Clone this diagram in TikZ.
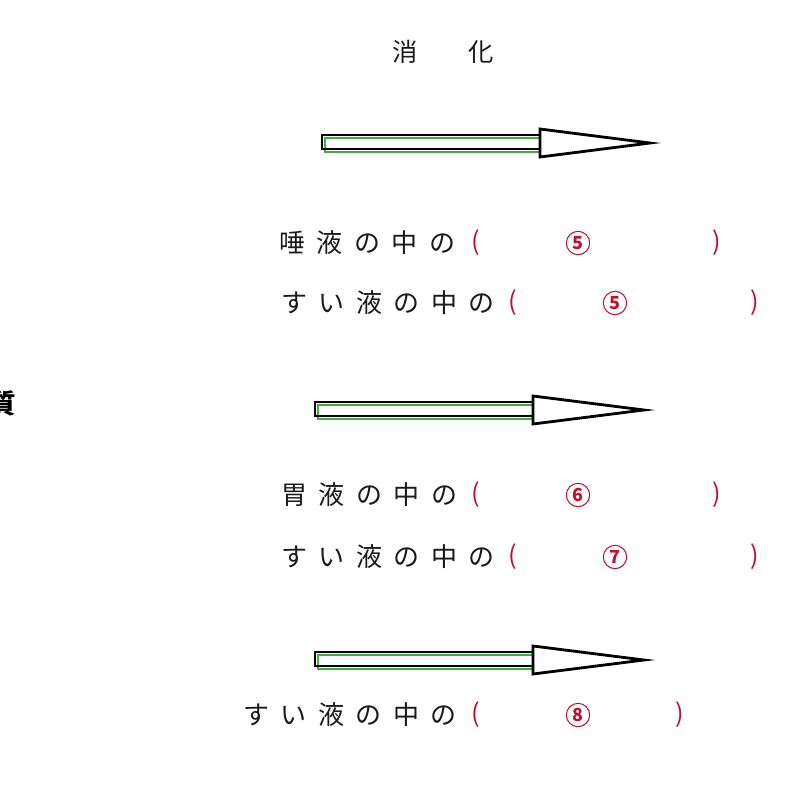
\documentclass[tikz,border=0pt]{standalone}
\usepackage{fontspec}
\newfontfamily\jp[LetterSpace=44]{Noto Sans CJK JP}
\newfontfamily\jpn{Noto Sans CJK JP}
\definecolor{lbl}{HTML}{1A1A1A}
\definecolor{redm}{HTML}{C0102A}
\definecolor{grn}{HTML}{3FAF3A}
\newcommand\fatarrow[5]{%
  % #1 name, #2 x left, #3 x head, #4 x tip, #5 y centre
  \coordinate (#1s) at (#2,#5);
  \coordinate (#1t) at (#4,#5);
  \draw[shaftg] (#2+3,#5-5) rectangle (#3,#5+9);
  \draw[shaftb] (#2,#5-8) rectangle (#3,#5+6);
  \draw[headst] (#3,#5-14) -- (#1t) -- (#3,#5+14) -- cycle;
}
\begin{document}
\begin{tikzpicture}[x=0.75pt,y=-0.75pt,
  shaftb/.style={draw=black,line width=2.1pt},
  shaftg/.style={draw=grn,line width=0.9pt},
  headst/.style={draw=black,fill=white,line width=2.1pt,line join=miter},
  txt/.style={font=\jp\fontsize{19.5pt}{20pt}\selectfont,text=lbl,anchor=west,inner sep=0pt},
  ttl/.style={font=\jpn\fontsize{19pt}{20pt}\selectfont,text=lbl,inner sep=0pt},
  rp/.style={font=\jpn\fontsize{19pt}{20pt}\selectfont,text=redm,inner sep=0pt},
  num/.style={circle,draw=redm,line width=0.8pt,minimum size=17.5pt,inner sep=0pt,
    font=\jpn\bfseries\fontsize{13.5pt}{13.5pt}\selectfont,text=redm}]
\useasboundingbox (0,0) rectangle (800,800);
\clip (0,0) rectangle (800,800);
% title
\node[ttl] (t1) at (405,52) {消};
\node[ttl] (t2) at (481,52) {化};
% left partial label (cut by the edge, as in the reference)
\node[ttl,font=\jpn\bfseries\fontsize{20pt}{20pt}\selectfont,text=black] (q) at (3,403) {質};
% arrows
\fatarrow{a}{322}{540}{650}{143}
\fatarrow{b}{315}{533}{644}{410}
\fatarrow{c}{315}{533}{644}{660}
% row 1
\node[txt] (l1) at (279,243) {唾液の中の};
\node[rp] (p1a) at (476,243) {(};
\node[num] (n1) at (578,243) {5};
\node[rp] (p1b) at (717,243) {)};
% row 2
\node[txt] (l2) at (281,303) {すい液の中の};
\node[rp] (p2a) at (513,303) {(};
\node[num] (n2) at (615,303) {5};
\node[rp] (p2b) at (755,303) {)};
% row 3
\node[txt] (l3) at (281,495) {胃液の中の};
\node[rp] (p3a) at (476,495) {(};
\node[num] (n3) at (578,495) {6};
\node[rp] (p3b) at (717,495) {)};
% row 4
\node[txt] (l4) at (281,557) {すい液の中の};
\node[rp] (p4a) at (513,557) {(};
\node[num] (n4) at (615,557) {7};
\node[rp] (p4b) at (755,557) {)};
% row 5
\node[txt] (l5) at (243,715) {すい液の中の};
\node[rp] (p5a) at (476,715) {(};
\node[num] (n5) at (578,715) {8};
\node[rp] (p5b) at (680,715) {)};
\end{tikzpicture}
\end{document}
